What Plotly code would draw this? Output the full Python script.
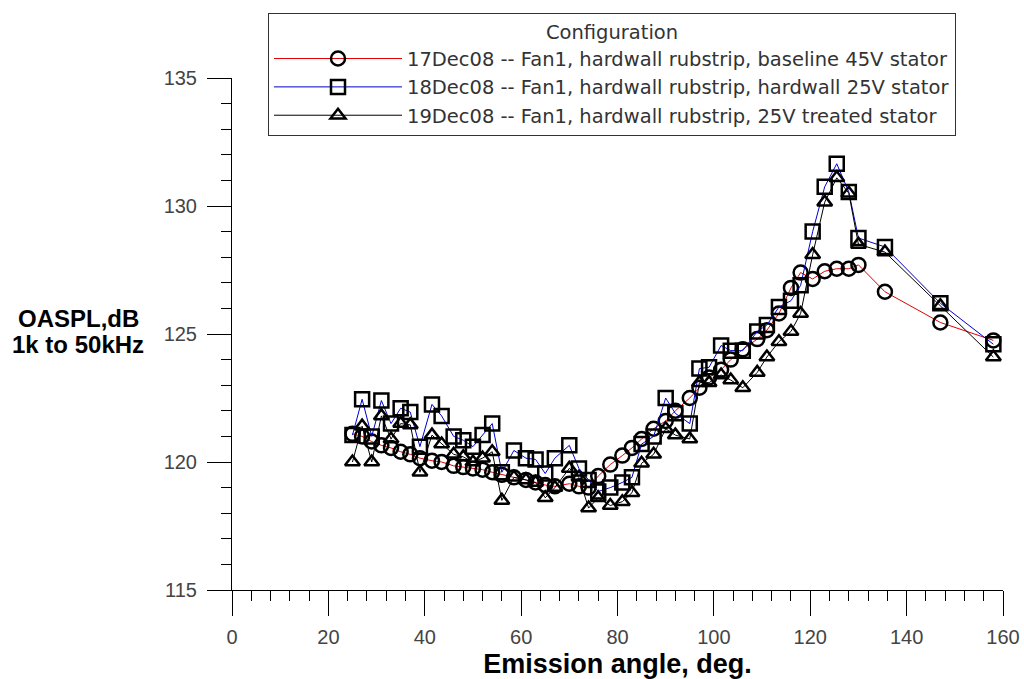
import plotly.graph_objects as go

angles = [25, 27, 29, 31, 33, 35, 37, 39, 41.5, 43.5, 46, 48, 50, 52, 54, 56, 58.5, 61, 63, 65,
          67, 70, 72, 74, 76, 78.5, 81, 83, 85, 87.5, 90, 92, 95, 97, 99, 101.5, 103.5, 106, 109, 111,
          113.5, 116, 118, 120.5, 123, 125.5, 128, 130, 135.5, 147, 158]

oaspl_17dec = [121.1, 121.0, 120.8, 120.65, 120.55, 120.4, 120.3, 120.15, 120.05, 120.0,
               119.85, 119.8, 119.75, 119.7, 119.6, 119.5, 119.4, 119.3, 119.2, 119.1,
               119.05, 119.15, 119.05, 119.0, 119.45, 119.9, 120.25, 120.55, 120.9, 121.3,
               121.6, 122.0, 122.5, 122.9, 123.3, 123.6, 124.0, 124.4, 124.8, 125.15,
               125.8, 126.8, 127.4, 127.15, 127.45, 127.55, 127.55, 127.7, 126.65, 125.45, 124.75]

oaspl_18dec = [121.05, 122.45, 121.0, 122.4, 121.5, 122.1, 121.95, 120.6, 122.25, 121.8,
               121.0, 120.85, 120.6, 121.05, 121.5, 119.6, 120.45, 120.15, 120.1, 119.55,
               120.15, 120.65, 119.75, 119.3, 118.85, 119.0, 119.2, 119.4, 120.7, 121.0,
               122.5, 121.9, 121.5, 123.65, 123.7, 124.55, 124.35, 124.35, 125.1, 125.35,
               126.05, 126.3, 126.9, 129.0, 130.75, 131.65, 130.55, 128.75, 128.4, 126.2, 124.6]

oaspl_19dec = [120.0, 121.4, 120.0, 121.8, 120.9, 121.5, 121.45, 119.6, 121.05, 120.7,
               120.3, 120.2, 120.0, 120.15, 120.4, 118.5, 119.4, 119.3, 119.2, 118.6,
               119.0, 119.75, 119.4, 118.2, 118.6, 118.3, 118.45, 118.8, 119.95, 120.3,
               121.3, 121.05, 120.9, 123.1, 123.1, 123.4, 123.2, 122.9, 123.5, 124.1,
               124.7, 125.1, 125.8, 128.1, 130.15, 131.1, 130.5, 128.5, 128.2, 126.1, 124.1]

series_names = [
    "17Dec08 -- Fan1, hardwall rubstrip, baseline 45V stator",
    "18Dec08 -- Fan1, hardwall rubstrip, hardwall 25V stator",
    "19Dec08 -- Fan1, hardwall rubstrip, 25V treated stator",
]

x_ticks = [0, 20, 40, 60, 80, 100, 120, 140, 160]
y_ticks = [115, 120, 125, 130, 135]

FONT = "Liberation Sans, Arial, sans-serif"
LEGEND_FONT = "DejaVu Sans, Liberation Sans, sans-serif"

W, H = 1024, 679
L, R, T, B = 232, 21, 78, 89
PH = H - T - B
PW = W - L - R

fig = go.Figure()
styles = [
    (oaspl_17dec, "#e00000", "circle-open", 14),
    (oaspl_18dec, "#0000cc", "square-open", 14),
    (oaspl_19dec, "#000000", "triangle-up-open", 13),
]
for (vals, col, sym, sz), name in zip(styles, series_names):
    fig.add_trace(go.Scatter(
        x=angles, y=vals, name=name, mode="lines+markers",
        line=dict(color=col, width=1),
        marker=dict(symbol=sym, size=sz, color="#000000", line=dict(width=2.5, color="#000000")),
    ))

fig.update_layout(
    width=W, height=H,
    margin=dict(l=L, r=R, t=T, b=B, autoexpand=False),
    paper_bgcolor="white", plot_bgcolor="white",
    font=dict(family=FONT, size=18, color="#333333"),
    legend=dict(
        x=(268 - L) / PW, y=(T + PH - 13) / PH, xanchor="left", yanchor="top",
        bgcolor="white", bordercolor="#333333", borderwidth=1,
        itemwidth=128,
        title=dict(text="Configuration", side="top center",
                   font=dict(family=LEGEND_FONT, size=19.5, color="#333333")),
        font=dict(family=LEGEND_FONT, size=19.5, color="#333333"),
        tracegroupgap=0,
    ),
    xaxis=dict(
        range=[0, 160], tickvals=x_ticks, ticks="outside", ticklen=25, tickwidth=1,
        tickcolor="#000", showline=True, linecolor="#000", linewidth=1,
        showgrid=False, zeroline=False, automargin=False, ticklabelstandoff=4,
        ticklabeloverflow="allow",
        minor=dict(dtick=4, tick0=0, ticks="outside", ticklen=10, tickcolor="#000", showgrid=False),
        tickfont=dict(size=20, color="#444444"),
        title=dict(text="<b>Emission angle, deg.</b>", font=dict(size=27, color="#000000"), standoff=10),
    ),
    yaxis=dict(
        range=[115, 135], tickvals=y_ticks, ticks="outside", ticklen=24, tickwidth=1,
        tickcolor="#000", showline=True, linecolor="#000", linewidth=1,
        showgrid=False, zeroline=False, automargin=False, ticklabelstandoff=6,
        minor=dict(dtick=1, tick0=115, ticks="outside", ticklen=10, tickcolor="#000", showgrid=False),
        tickfont=dict(size=20, color="#444444"),
    ),
    annotations=[
        dict(text="<b>OASPL,dB</b>", xref="paper", yref="paper",
             x=(78 - L) / PW, y=(T + PH - 318) / PH, xanchor="center", yanchor="middle", showarrow=False,
             font=dict(size=24, color="#000000")),
        dict(text="<b>1k to 50kHz</b>", xref="paper", yref="paper",
             x=(78 - L) / PW, y=(T + PH - 344) / PH, xanchor="center", yanchor="middle", showarrow=False,
             font=dict(size=24, color="#000000")),
    ],
)

fig.write_html(
    "out.html",
    config={"displayModeBar": False},
    post_script="document.documentElement.style.margin='0';document.body.style.margin='0';"
                "document.body.style.overflow='hidden';",
)
